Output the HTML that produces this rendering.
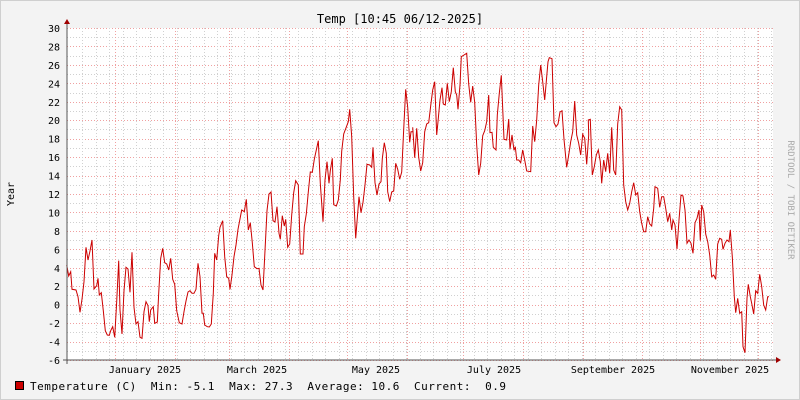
<!DOCTYPE html>
<html><head><meta charset="utf-8"><style>
html,body{margin:0;padding:0;background:#f3f3f3;}
svg{display:block;}
text{font-family:"DejaVu Sans Mono","Liberation Mono",monospace;font-size:10px;fill:#000;}
</style></head><body>
<svg id="s" width="800" height="400" xmlns="http://www.w3.org/2000/svg">
<rect x="0" y="0" width="800" height="400" fill="#f3f3f3"/>
<rect x="0.5" y="0.5" width="799" height="399" fill="none" stroke="#cfcfcf"/>
<rect x="67" y="28" width="706" height="332" fill="#fff"/>
<g id="grid"></g>
<polyline id="line" fill="none" stroke="#cc0000" stroke-width="1" points=""/>
<line x1="67" y1="22" x2="67" y2="364" stroke="#555"/>
<line x1="63" y1="360" x2="778" y2="360" stroke="#555"/>
<polygon points="64,24 70,24 67,19" fill="#a00000"/>
<polygon points="776,357 776,363 781,360" fill="#a00000"/>
<text x="400" y="23" text-anchor="middle" style="font-size:12px">Temp [10:45 06/12-2025]</text>
<text transform="translate(14,194) rotate(-90)" text-anchor="middle">Year</text>
<text transform="translate(788,200) rotate(90)" text-anchor="middle" style="fill:#aaa;font-size:9px">RRDTOOL / TOBI OETIKER</text>
<g id="yl"></g>
<text x="145" y="373" text-anchor="middle">January 2025</text>
<text x="257" y="373" text-anchor="middle">March 2025</text>
<text x="376" y="373" text-anchor="middle">May 2025</text>
<text x="494" y="373" text-anchor="middle">July 2025</text>
<text x="613" y="373" text-anchor="middle">September 2025</text>
<text x="730" y="373" text-anchor="middle">November 2025</text>
<rect x="15.5" y="381.5" width="8" height="8" fill="#cc0000" stroke="#000"/>
<text x="30" y="390" textLength="476" lengthAdjust="spacing" style="font-size:11px;white-space:pre">Temperature (C)  Min: -5.1  Max: 27.3  Average: 10.6  Current:  0.9</text>
</svg>
<script>
var ns="http://www.w3.org/2000/svg",g=document.getElementById('grid'),yl=document.getElementById('yl');
function L(x1,y1,x2,y2,c){var l=document.createElementNS(ns,'line');l.setAttribute('x1',x1);l.setAttribute('y1',y1);l.setAttribute('x2',x2);l.setAttribute('y2',y2);l.setAttribute('stroke',c);l.setAttribute('stroke-dasharray','1,2');g.appendChild(l);}
function Y(v){return 304.67-9.222*v;}
for(var v=-6;v<=30;v++){var y=Math.round(Y(v))+0.5;L(67,y,773,y,v%2==0?'#f0a0a0':'#d0d0d0');
 if(v%2==0){var t=document.createElementNS(ns,'text');t.setAttribute('x',60);t.setAttribute('y',Y(v)+4);t.setAttribute('text-anchor','end');t.textContent=v;yl.appendChild(t);}}
for(var x=82;x<773;x+=13.5){L(Math.round(x)+0.5,28,Math.round(x)+0.5,360,'#d0d0d0');}
[115,175,229,289,347,407,463,523,583,642,700,758].forEach(function(x){L(x+0.5,28,x+0.5,360,'#f0a0a0');});
var Z=[[60,140,[20,375,26,408,32,395,36,448,48,450,54,470,60,517,66,478,72,425,78,322,84,360,90,333,96,300,102,447,110,437,114,415,118,465,124,458,130,512,136,572,142,585,148,586,152,572,158,560,164,592,170,485,176,362,180,510,186,582,192,452,198,382,204,387,210,457,216,337,222,502,228,552,234,545,240,592,246,595,252,515,258,485,264,497,268,545,272,510,280,500,284,550,292,546,296,460,302,355,308,325,314,368,320,372,326,390,332,355,338,418,344,433,350,512,358,548,366,552,372,515,378,483,384,456,390,452,396,460,402,460,408,448,414,370,420,410,426,520,430,520,434,555,442,560,448,561,454,552,460,460,464,340,470,360,476,287,480,262,488,242,494,350,500,410,506,415,510,448,516,405,522,350,528,315,534,268]],
[235,40,[20,510,28,515,34,478,40,570,46,548,52,608,58,680,66,686,72,685,78,735,84,750,90,632,96,512,102,462,108,456,114,542,120,546,126,500,132,580,136,598,142,527,148,558,152,538,158,622,164,612,170,525,176,458,182,422,190,435,196,642,204,642,208,560,214,522,220,456,226,396,232,397,238,358,244,330,250,302,256,430,264,545,270,420,276,365,282,430,286,392,292,355,296,494,304,498,310,480,316,420,320,334,326,282,332,266,340,245,344,208,350,290,356,470,362,595,372,470,378,518,384,487,390,435,396,373,404,375,410,382,414,322,420,428,426,465,432,432,438,425,442,356,448,308,454,340,458,455,464,485,470,456,476,453,482,370,488,388,494,418,500,396,506,268,512,148,518,202,524,307,528,275,534,275]],
[410,40,[8,262,14,353,20,265,26,352,32,393,38,368,44,275,50,252,56,248,62,197,68,150,74,125,80,285,84,245,90,180,96,143,100,192,106,195,112,130,118,185,124,155,130,83,136,155,140,165,144,208,150,135,154,50,162,45,170,40,176,132,182,187,188,138,194,187,200,315,206,405,212,370,218,287,224,272,230,245,236,165,240,278,246,277,250,322,258,330,262,225,268,160,274,106,282,298,290,300,296,237,300,328,306,285,312,331,316,320,320,360,326,360,332,368,338,330,344,360,350,393,362,395,368,258,374,305,380,240,386,135,392,75,398,125,404,180,410,110,414,65,418,53,426,56,432,248,438,260,444,252,450,216,456,212,462,298,470,382,476,345,482,305,488,275,494,183,500,285,506,310,512,345,518,283,524,295,530,373,536,285]],
[585,90,[10,90,16,88,22,255,28,230,34,195,40,180,46,215,50,280,56,210,62,245,68,190,74,250,80,112,86,240,92,255,98,102,104,50,110,60,116,285,122,335,128,360,134,340,140,305,146,278,152,315,158,308,164,365,170,400,176,425,182,425,188,380,194,402,200,408,206,355,210,290,218,295,224,352,230,320,236,320,242,355,248,395,254,370,260,420,264,390,270,405,276,477,282,390,288,315,294,318,300,360,306,460,312,450,318,460,324,490,330,398,336,385,342,360,346,452,350,345,356,365,362,432,368,455,374,495,380,560,386,555,392,568,398,462,404,445,410,448,414,478,420,460,426,450,432,455,436,420,442,500,448,620,452,668,458,625,464,670,470,665,474,770,480,788,486,625,490,583,496,620,500,640,506,672,512,602,518,610,524,553,530,590,536,645,542,660,548,620,552,620]]];
var pts=[];Z.forEach(function(z){var a=z[2];for(var i=0;i<a.length;i+=2){pts.push((z[0]+a[i]/3).toFixed(1)+','+(z[1]+a[i+1]/3).toFixed(1));}});
document.getElementById('line').setAttribute('points',pts.join(' '));
</script>
</body></html>
